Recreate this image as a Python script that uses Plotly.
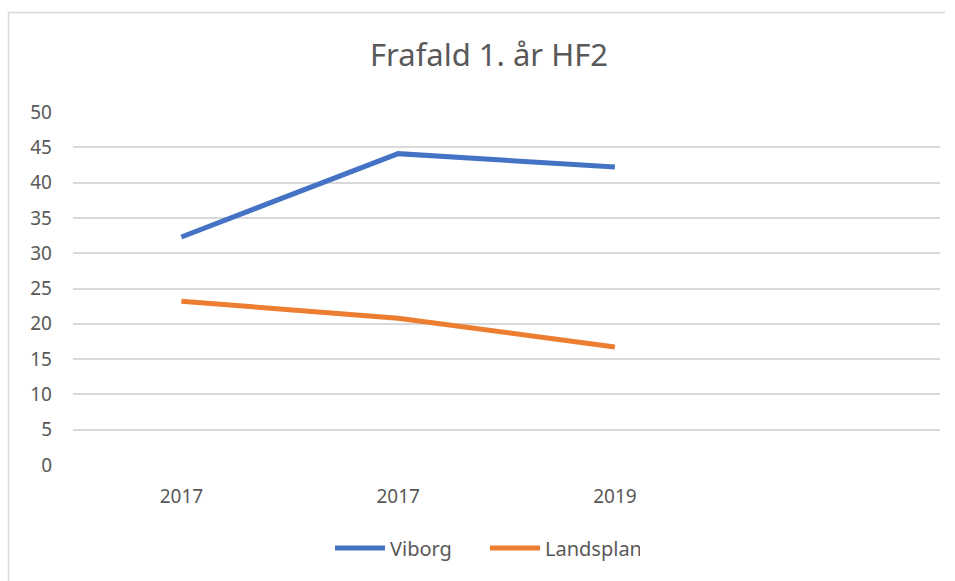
import plotly.graph_objects as go

x_labels = ["2017", "2017", "2019"]
viborg = [32.3, 44.1, 42.2]
landsplan = [23.2, 20.8, 16.7]
y_ticks = [0, 5, 10, 15, 20, 25, 30, 35, 40, 45, 50]

xpos = list(range(len(x_labels)))
font_family = "Noto Sans, Open Sans, sans-serif"
text_color = "#595959"

fig = go.Figure()
fig.add_trace(go.Scatter(x=xpos, y=viborg, mode="lines", name="Viborg",
                         line=dict(color="#4472C4", width=5)))
fig.add_trace(go.Scatter(x=xpos, y=landsplan, mode="lines", name="Landsplan",
                         line=dict(color="#ED7D31", width=5)))

L, R, T, B = 73, 15, 112, 116
W, H = 955, 581
pw, ph = W - L - R, H - T - B

def px_x(v):
    return (v - L) / pw

def px_y(v):
    return (H - B - v) / ph

border = dict(color="#D9D9D9", width=1.5)

fig.update_layout(
    width=W, height=H,
    margin=dict(l=L, r=R, t=T, b=B),
    paper_bgcolor="white", plot_bgcolor="white",
    font=dict(family=font_family, color=text_color, size=19),
    title=dict(text="Frafald 1. år HF2", x=489 / W, xref="container", xanchor="center",
               y=1 - 55 / H, yref="container", yanchor="middle",
               font=dict(size=31, color=text_color, family=font_family)),
    showlegend=True,
    legend=dict(orientation="h", x=px_x(485), xanchor="center",
                y=px_y(548), yanchor="middle",
                font=dict(size=20, color=text_color), itemwidth=50,
                entrywidth=90, entrywidthmode="pixels"),
    xaxis=dict(range=[-0.5, 3.5], tickvals=xpos, ticktext=x_labels,
               showgrid=False, zeroline=False, showline=False, ticks="",
               ticklabelstandoff=18, fixedrange=True),
    yaxis=dict(range=[0, 50], tickvals=y_ticks, showgrid=True, gridcolor="#D9D9D9",
               gridwidth=1.5, zeroline=False, showline=False, ticks="",
               ticklabelstandoff=20, fixedrange=True),
    shapes=[
        dict(type="line", xref="paper", yref="paper",
             x0=px_x(8.5), x1=px_x(945), y0=px_y(12.5), y1=px_y(12.5), line=border),
        dict(type="line", xref="paper", yref="paper",
             x0=px_x(8.5), x1=px_x(8.5), y0=px_y(12.5), y1=px_y(590), line=border),
    ],
)
fig.write_html("out.html", config={"displayModeBar": False},
               post_script="document.body.style.margin='0';")
